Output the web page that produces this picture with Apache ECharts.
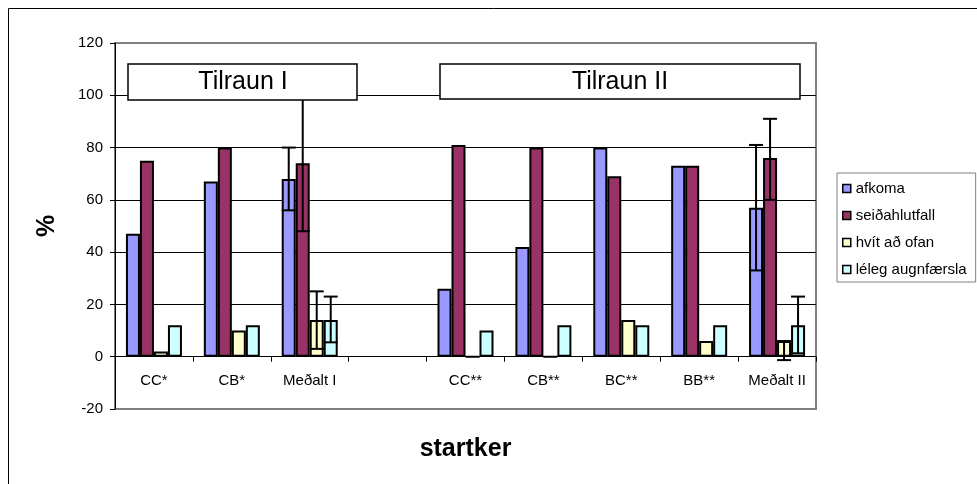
<!DOCTYPE html>
<html>
<head>
<meta charset="utf-8">
<script src="https://cdn.jsdelivr.net/npm/echarts@6/dist/echarts.min.js"></script>
<style>
  html, body { margin: 0; padding: 0; background: #fff; }
  #chart { width: 977px; height: 484px; }
</style>
</head>
<body>
<div id="chart"></div>
<script>
var categories = ['CC*', 'CB*', 'Meðalt I', '', 'CC**', 'CB**', 'BC**', 'BB**', 'Meðalt II'];
var seriesNames = ['afkoma', 'seiðahlutfall', 'hvít að ofan', 'léleg augnfærsla'];
var afkoma = [47, 67, 68, null, 26, 42, 80, 73, 57];
var seidahlutfall = [75, 80, 74, null, 81, 80, 69, 73, 76];
var hvit = [2, 10, 14, null, 0, 0, 14, 6, 6];
var leleg = [12, 12, 14, null, 10, 12, 12, 12, 12];
var yTicks = [-20, 0, 20, 40, 60, 80, 100, 120];

// error bars: [category index, series index, low, high]
var errorBars = [
  [2, 0, 56, 80], [2, 1, 48, 100], [2, 2, 3, 25], [2, 3, 5.5, 23],
  [8, 0, 33, 81], [8, 1, 60, 91], [8, 2, -1.3, 6], [8, 3, 1.3, 23]
];
var colors = ['#9999ff', '#993366', '#ffffcc', '#ccffff'];

var chart = echarts.init(document.getElementById('chart'));
var font = 'Arial, "Liberation Sans", sans-serif';
var BAR_W = 14;

function barSeries(i, data) {
  return {
    name: seriesNames[i],
    type: 'bar',
    data: data,
    barWidth: BAR_W,
    barGap: '0%',
    itemStyle: { color: colors[i], borderColor: '#000', borderWidth: 2 },
    z: 2
  };
}

var option = {
  animation: false,
  backgroundColor: '#fff',
  grid: {
    left: 115, right: 161, top: 43, bottom: 75,
    outerBoundsMode: 'none',
    containLabel: false,
    show: true, borderColor: '#808080', borderWidth: 2, backgroundColor: 'transparent'
  },
  legend: {
    orient: 'vertical',
    left: 837, top: 173,
    data: seriesNames,
    icon: 'rect',
    itemWidth: 8, itemHeight: 8, itemGap: 12,
    padding: [8, 9, 5, 5],
    backgroundColor: '#fff',
    borderColor: '#808080', borderWidth: 1,
    textStyle: { fontFamily: font, fontSize: 15, color: '#000' },
    itemStyle: { borderColor: '#000', borderWidth: 1.5 }
  },
  xAxis: {
    type: 'category',
    data: categories,
    name: 'startker',
    nameLocation: 'middle',
    nameGap: 28,
    nameTextStyle: { fontFamily: font, fontSize: 25, fontWeight: 'bold', color: '#000' },
    axisLine: { onZero: true, lineStyle: { color: '#000', width: 1 } },
    axisTick: { show: true, length: 5, lineStyle: { color: '#000' } },
    axisLabel: { interval: 0, margin: -36, fontFamily: font, fontSize: 15, color: '#000' }
  },
  yAxis: {
    type: 'value',
    min: -20, max: 120, interval: 20,
    name: '%',
    nameLocation: 'middle',
    nameRotate: 90,
    nameGap: 55,
    nameTextStyle: { fontFamily: font, fontSize: 25, fontWeight: 'bold', color: '#000' },
    axisLine: { show: true, lineStyle: { color: '#000', width: 1 } },
    axisTick: { show: true, length: 5, lineStyle: { color: '#000' } },
    axisLabel: {
      margin: 12, fontFamily: font, fontSize: 15, color: '#000',
      formatter: function (v) { return yTicks.indexOf(v) >= 0 ? String(v) : ''; }
    },
    splitLine: {
      show: true,
      lineStyle: { color: ['#808080', '#000', '#000', '#000', '#000', '#000', '#000', '#808080'], width: 1 }
    }
  },
  series: [
    barSeries(0, afkoma),
    barSeries(1, seidahlutfall),
    barSeries(2, hvit),
    barSeries(3, leleg),
    {
      type: 'custom',
      name: 'err',
      data: errorBars,
      encode: { x: 0, y: [2, 3] },
      z: 5,
      silent: true,
      renderItem: function (params, api) {
        var cat = api.value(0);
        var s = api.value(1);
        var lo = api.coord([cat, api.value(2)]);
        var hi = api.coord([cat, api.value(3)]);
        var x = lo[0] + (s - 1.5) * BAR_W;
        var half = 7;
        var st = { stroke: '#000', lineWidth: 2 };
        return {
          type: 'group',
          children: [
            { type: 'line', shape: { x1: x, y1: lo[1], x2: x, y2: hi[1] }, style: st },
            { type: 'line', shape: { x1: x - half, y1: lo[1], x2: x + half, y2: lo[1] }, style: st },
            { type: 'line', shape: { x1: x - half, y1: hi[1], x2: x + half, y2: hi[1] }, style: st }
          ]
        };
      }
    }
  ],
  graphic: [
    {
      type: 'rect', z: 100, silent: true,
      shape: { x: 8.5, y: 8.5, width: 1000, height: 500 },
      style: { fill: 'none', stroke: '#000', lineWidth: 1 }
    },
    {
      type: 'rect', z: 100,
      shape: { x: 128, y: 64, width: 229, height: 36 },
      style: { fill: '#fff', stroke: '#000', lineWidth: 1.5 }
    },
    {
      type: 'text', z: 101,
      x: 243, y: 82,
      style: { text: 'Tilraun I', font: '25px ' + font, fill: '#000', align: 'center', verticalAlign: 'middle' }
    },
    {
      type: 'rect', z: 100,
      shape: { x: 440, y: 64, width: 360, height: 35 },
      style: { fill: '#fff', stroke: '#000', lineWidth: 1.5 }
    },
    {
      type: 'text', z: 101,
      x: 620, y: 82,
      style: { text: 'Tilraun II', font: '25px ' + font, fill: '#000', align: 'center', verticalAlign: 'middle' }
    }
  ]
};
chart.setOption(option);
</script>
</body>
</html>
